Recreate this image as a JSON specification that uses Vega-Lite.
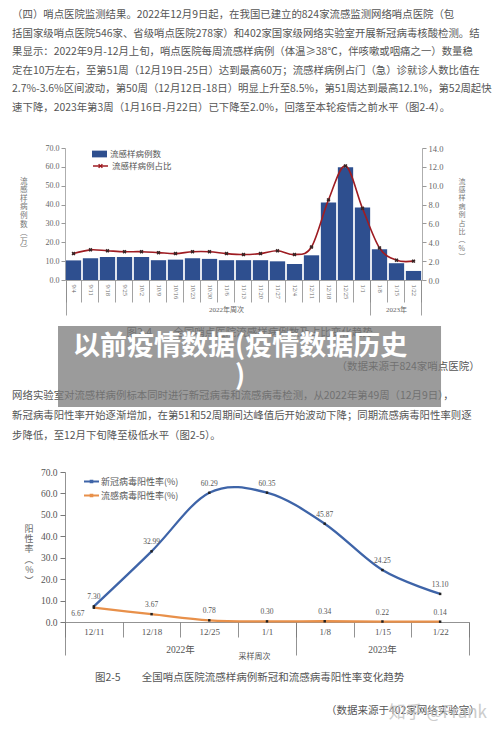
{
  "$schema": "https://vega.github.io/schema/vega-lite/v6.json",
  "background": "white",
  "padding": {"left": 12, "top": 0, "right": 0, "bottom": 0},
  "bounds": "flush",
  "spacing": 0,
  "config": {"view": {"stroke": null}, "concat": {"spacing": 0}, "font": "Noto Sans CJK SC"},
  "resolve": {
    "scale": {"fill": "independent", "stroke": "independent", "color": "independent"},
    "legend": {"fill": "independent", "stroke": "independent", "color": "independent"}
  },
  "datasets": {
    "para1": [
      {"line": 1, "text": "　　（四）哨点医院监测结果。2022年12月9日起，在我国已建立的824家流感监测网络哨点医院（包"},
      {"line": 2, "text": "括国家级哨点医院546家、省级哨点医院278家）和402家国家级网络实验室开展新冠病毒核酸检测。结"},
      {"line": 3, "text": "果显示：2022年9月-12月上旬，哨点医院每周流感样病例（体温≥38℃，伴咳嗽或咽痛之一）数量稳"},
      {"line": 4, "text": "定在10万左右，至第51周（12月19日-25日）达到最高60万；流感样病例占门（急）诊就诊人数比值在"},
      {"line": 5, "text": "2.7%-3.6%区间波动，第50周（12月12日-18日）明显上升至8.5%，第51周达到最高12.1%，第52周起快"},
      {"line": 6, "text": "速下降，2023年第3周（1月16日-月22日）已下降至2.0%，回落至本轮疫情之前水平（图2-4）。"}
    ],
    "para2": [
      {"line": 1, "text": "　　网络实验室对流感样病例标本同时进行新冠病毒和流感病毒检测，从2022年第49周（12月9日），"},
      {"line": 2, "text": "新冠病毒阳性率开始逐渐增加，在第51和52周期间达峰值后开始波动下降；同期流感病毒阳性率则逐"},
      {"line": 3, "text": "步降低，至12月下旬降至极低水平（图2-5）。"}
    ],
    "cap1": [{"text": "图2-4　　全国哨点医院流感样病例数及占比变化趋势"}],
    "src1": [{"text": "（数据来源于824家哨点医院）"}],
    "cap2": [{"text": "图2-5　　全国哨点医院流感样病例新冠和流感病毒阳性率变化趋势"}],
    "src2": [{"text": "（数据来源于402家网络实验室）"}],
    "wm": [{"text": "知乎 @Frank"}],
    "banner": [{"text": ["以前疫情数据(疫情数据历史", ")"]}],
    "ili": [
      {"week": "9/4", "cases": 10.4, "ratio": 2.8},
      {"week": "9/11", "cases": 11.5, "ratio": 3.2},
      {"week": "9/18", "cases": 12.2, "ratio": 3.1},
      {"week": "9/25", "cases": 12.2, "ratio": 3.0},
      {"week": "10/2", "cases": 12.2, "ratio": 3.0},
      {"week": "10/9", "cases": 10.5, "ratio": 2.9},
      {"week": "10/16", "cases": 10.8, "ratio": 2.8},
      {"week": "10/23", "cases": 11.5, "ratio": 3.0},
      {"week": "10/30", "cases": 11.2, "ratio": 3.0},
      {"week": "11/6", "cases": 10.5, "ratio": 2.8},
      {"week": "11/13", "cases": 10.5, "ratio": 2.7},
      {"week": "11/20", "cases": 10.5, "ratio": 2.8},
      {"week": "11/27", "cases": 9.9, "ratio": 3.1},
      {"week": "12/4", "cases": 8.5, "ratio": 2.7},
      {"week": "12/11", "cases": 13.1, "ratio": 3.5},
      {"week": "12/18", "cases": 41.1, "ratio": 8.5},
      {"week": "12/25", "cases": 59.8, "ratio": 12.1},
      {"week": "1/1", "cases": 38.5, "ratio": 7.6},
      {"week": "1/8", "cases": 16.3, "ratio": 3.4},
      {"week": "1/15", "cases": 8.9, "ratio": 2.1},
      {"week": "1/22", "cases": 4.8, "ratio": 2.0}
    ],
    "pos": [
      {"week": "12/11", "series": "新冠病毒阳性率(%)", "value": 7.30},
      {"week": "12/18", "series": "新冠病毒阳性率(%)", "value": 32.99},
      {"week": "12/25", "series": "新冠病毒阳性率(%)", "value": 60.29},
      {"week": "1/1", "series": "新冠病毒阳性率(%)", "value": 60.35},
      {"week": "1/8", "series": "新冠病毒阳性率(%)", "value": 45.87},
      {"week": "1/15", "series": "新冠病毒阳性率(%)", "value": 24.25},
      {"week": "1/22", "series": "新冠病毒阳性率(%)", "value": 13.10},
      {"week": "12/11", "series": "流感病毒阳性率(%)", "value": 6.67},
      {"week": "12/18", "series": "流感病毒阳性率(%)", "value": 3.67},
      {"week": "12/25", "series": "流感病毒阳性率(%)", "value": 0.78},
      {"week": "1/1", "series": "流感病毒阳性率(%)", "value": 0.30},
      {"week": "1/8", "series": "流感病毒阳性率(%)", "value": 0.34},
      {"week": "1/15", "series": "流感病毒阳性率(%)", "value": 0.22},
      {"week": "1/22", "series": "流感病毒阳性率(%)", "value": 0.14}
    ]
  },
  "vconcat": [
    {
      "width": 422, "height": 148,
      "data": {"name": "para1"},
      "mark": {"type": "text", "align": "left", "baseline": "middle", "fontSize": 10.4, "color": "#555", "font": "Noto Sans CJK SC"},
      "encoding": {
        "x": {"datum": 0, "type": "quantitative", "scale": {"domain": [0.1114, 1], "nice": false, "zero": false}, "axis": null},
        "y": {"field": "line", "type": "quantitative", "scale": {"domain": [0.1935, 8.1505], "nice": false, "zero": false, "reverse": true}, "axis": null},
        "text": {"field": "text"}
      }
    },
    {
      "width": 357, "height": 132,
      "data": {"name": "ili"},
      "layer": [
        {
          "mark": {"type": "bar"},
          "encoding": {
            "x": {"field": "week", "type": "ordinal", "sort": null,
                  "scale": {"type": "band", "paddingInner": 0.1, "paddingOuter": 0.05},
                  "axis": {"orient": "bottom", "title": null, "tickBand": "extent", "tickSize": 22, "tickColor": "#8a8a8a", "tickWidth": 0.8, "domainColor": "#8a8a8a", "domainWidth": 0.8, "labelAngle": 90, "labelAlign": "left", "labelBaseline": "middle", "labelPadding": -18, "labelFont": "Liberation Serif", "labelFontSize": 6.5, "labelColor": "#666"}},
            "y": {"field": "cases", "type": "quantitative", "scale": {"domain": [0, 70], "nice": false},
                  "axis": {"orient": "left", "values": [0, 10, 20, 30, 40, 50, 60, 70], "format": ".1f", "grid": false, "tickSize": 4, "tickColor": "#999", "domainColor": "#999", "domainWidth": 0.8, "labelPadding": 2, "labelFont": "Liberation Serif", "labelFontSize": 8, "labelColor": "#666",
                           "title": ["流", "感", "样", "病", "例", "数", "︵", "万", "︶"], "titleAngle": 0, "titleAlign": "right", "titleBaseline": "top", "titleX": -38, "titleY": 29, "titleFont": "Noto Sans CJK SC", "titleFontSize": 7.6, "titleLineHeight": 8.6, "titleFontWeight": "normal", "titleColor": "#777"}},
            "fill": {"datum": "流感样病例数", "type": "nominal", "scale": {"range": ["#2E4F8F"]},
                     "legend": {"orient": "none", "legendX": 27, "legendY": -1.5, "title": null, "padding": 0, "symbolType": "M-1,-0.45H1V0.45H-1Z", "symbolSize": 225, "symbolStrokeWidth": 0, "labelFont": "Noto Sans CJK SC", "labelFontSize": 8.5, "labelColor": "#555", "labelOffset": 3}}
          }
        },
        {
          "mark": {"type": "line", "interpolate": "cardinal", "strokeWidth": 1.6},
          "encoding": {
            "x": {"field": "week", "type": "ordinal", "sort": null,
                  "axis": {"orient": "bottom", "title": null, "tickBand": "extent", "tickSize": 35, "tickWidth": 0.8, "labels": false, "domain": false,
                           "tickColor": {"condition": {"test": "datum.value === '1/1' || datum.value === '1/22' || datum.extra", "value": "#8a8a8a"}, "value": "transparent"}}},
            "y": {"field": "ratio", "type": "quantitative", "scale": {"domain": [0, 14], "nice": false},
                  "axis": {"orient": "right", "values": [0, 2, 4, 6, 8, 10, 12, 14], "format": ".1f", "grid": false, "tickSize": 4, "tickColor": "#999", "domainColor": "#999", "domainWidth": 0.8, "labelPadding": 2, "labelFont": "Liberation Serif", "labelFontSize": 8.5, "labelColor": "#666",
                           "title": ["流", "感", "样", "病", "例", "占", "比", "︵", "%", "︶"], "titleAngle": 0, "titleAlign": "left", "titleBaseline": "top", "titleX": 36, "titleY": 29, "titleFont": "Noto Sans CJK SC", "titleFontSize": 7, "titleLineHeight": 8.4, "titleFontWeight": "normal", "titleColor": "#777"}},
            "stroke": {"datum": "流感样病例占比", "type": "nominal", "scale": {"range": ["#9E1C22"]},
                       "legend": {"orient": "none", "legendX": 27, "legendY": 9.5, "title": null, "padding": 0, "symbolType": "M-1,0H1M-0.25,-0.25L0.25,0.25M-0.25,0.25L0.25,-0.25", "symbolSize": 225, "symbolStrokeWidth": 1.4, "labelFont": "Noto Sans CJK SC", "labelFontSize": 8.5, "labelColor": "#555", "labelOffset": 3}}
          }
        },
        {
          "mark": {"type": "point", "shape": "cross", "angle": 45, "filled": true, "size": 16, "color": "#3a2424", "opacity": 1},
          "encoding": {
            "x": {"field": "week", "type": "ordinal", "sort": null,
                  "axis": {"orient": "bottom", "title": null, "values": ["11/6", "1/15"], "labelExpr": "datum.value === '11/6' ? '2022年周次' : '2023年'", "ticks": false, "domain": false, "labelPadding": 25, "labelAngle": 0, "labelAlign": "center", "labelBaseline": "top", "labelFont": "Liberation Serif, Noto Sans CJK SC", "labelFontSize": 7, "labelColor": "#666"}},
            "y": {"field": "ratio", "type": "quantitative", "scale": {"domain": [0, 14], "nice": false}, "axis": null}
          }
        }
      ],
      "resolve": {"scale": {"y": "independent"}, "axis": {"x": "independent"}}
    },
    {
      "width": 422, "height": 192,
      "layer": [
        {
          "data": {"name": "cap1"},
          "mark": {"type": "text", "align": "center", "baseline": "middle", "fontSize": 10.5, "color": "#555"},
          "encoding": {
            "x": {"datum": 0.5, "type": "quantitative", "scale": {"domain": [0.1114, 1], "nice": false, "zero": false}, "axis": null},
            "y": {"datum": -2.15, "type": "quantitative", "scale": {"domain": [-4.8, 4.8], "nice": false, "zero": false, "reverse": true}, "axis": null},
            "text": {"field": "text"}
          }
        },
        {
          "data": {"name": "src1"},
          "mark": {"type": "text", "align": "right", "baseline": "middle", "fontSize": 10.5, "color": "#555"},
          "encoding": {
            "x": {"datum": 0.985, "type": "quantitative", "scale": {"domain": [0.1114, 1], "nice": false, "zero": false}, "axis": null},
            "y": {"datum": -0.45, "type": "quantitative", "scale": {"domain": [-4.8, 4.8], "nice": false, "zero": false, "reverse": true}, "axis": null},
            "text": {"field": "text"}
          }
        },
        {
          "data": {"name": "para2"},
          "mark": {"type": "text", "align": "left", "baseline": "middle", "fontSize": 10.4, "color": "#555"},
          "encoding": {
            "x": {"datum": 0, "type": "quantitative", "scale": {"domain": [0.1114, 1], "nice": false, "zero": false}, "axis": null},
            "y": {"field": "line", "type": "quantitative", "scale": {"domain": [-4.8, 4.8], "nice": false, "zero": false, "reverse": true}, "axis": null},
            "text": {"field": "text"}
          }
        },
        {
          "data": {"name": "banner"},
          "mark": {"type": "rect", "fill": "#7a7a7a", "opacity": 0.75},
          "encoding": {
            "x": {"datum": 0.0967, "type": "quantitative", "scale": {"domain": [0.1114, 1], "nice": false, "zero": false}, "axis": null},
            "x2": {"datum": 0.9032},
            "y": {"datum": -2.5, "type": "quantitative", "scale": {"domain": [-4.8, 4.8], "nice": false, "zero": false, "reverse": true}, "axis": null},
            "y2": {"datum": 1.55}
          }
        },
        {
          "data": {"name": "banner"},
          "mark": {"type": "text", "align": "center", "baseline": "middle", "fontSize": 27, "fontWeight": "bold", "color": "white", "lineHeight": 30, "font": "Noto Sans CJK SC"},
          "encoding": {
            "x": {"datum": 0.48, "type": "quantitative", "scale": {"domain": [0.1114, 1], "nice": false, "zero": false}, "axis": null},
            "y": {"datum": -1.45, "type": "quantitative", "scale": {"domain": [-4.8, 4.8], "nice": false, "zero": false, "reverse": true}, "axis": null},
            "text": {"field": "text"}
          }
        }
      ]
    },
    {
      "width": 404, "height": 150,
      "data": {"name": "pos"},
      "encoding": {
        "y": {"field": "value", "type": "quantitative", "scale": {"domain": [0, 70], "nice": false}, "axis": null}
      },
      "layer": [
        {
          "mark": {"type": "line", "interpolate": "cardinal", "strokeWidth": 2.3},
          "encoding": {
            "x": {"field": "week", "type": "ordinal", "sort": null, "scale": {"type": "band", "paddingInner": 0, "paddingOuter": 0},
                  "axis": {"orient": "bottom", "title": null, "tickBand": "extent", "tickSize": 15, "tickColor": "#777", "tickWidth": 0.8, "domainColor": "#777", "domainWidth": 0.8, "labelAngle": 0, "labelBaseline": "top", "labelPadding": -10, "labelFont": "Liberation Serif", "labelFontSize": 9, "labelColor": "#555"}},
            "y": {"field": "value", "type": "quantitative", "scale": {"domain": [0, 70], "nice": false},
                  "axis": {"orient": "left", "values": [0, 10, 20, 30, 40, 50, 60, 70], "format": ".1f", "grid": false, "tickSize": 5, "tickColor": "#777", "domainColor": "#777", "domainWidth": 0.8, "labelPadding": 3, "labelFont": "Liberation Serif", "labelFontSize": 9.5, "labelColor": "#555",
                           "title": ["阳", "性", "率", "︵", "%", "︶"], "titleAngle": 0, "titleAlign": "right", "titleBaseline": "top", "titleX": -32, "titleY": 52, "titleFont": "Noto Sans CJK SC", "titleFontSize": 9, "titleLineHeight": 10.4, "titleFontWeight": "normal", "titleColor": "#666"}},
            "color": {"field": "series", "type": "nominal", "scale": {"domain": ["新冠病毒阳性率(%)", "流感病毒阳性率(%)"], "range": ["#3E64A8", "#E8904A"]},
                      "legend": {"orient": "none", "legendX": 19, "legendY": 2, "title": null, "padding": 0, "symbolType": "M-1.25,0H1.25M-0.12,-0.12H0.12V0.12H-0.12Z", "symbolSize": 144, "symbolStrokeWidth": 2.2, "rowPadding": 1, "labelFont": "Noto Sans CJK SC", "labelFontSize": 9, "labelColor": "#555", "labelOffset": 2}}
          }
        },
        {
          "mark": {"type": "point", "shape": "square", "filled": true, "size": 6, "color": "#222", "opacity": 1},
          "encoding": {
            "x": {"field": "week", "type": "ordinal", "sort": null,
                  "axis": {"orient": "bottom", "tickBand": "extent", "tickSize": 33, "tickWidth": 0.8, "labels": false, "domain": false,
                           "tickColor": {"condition": {"test": "datum.value === '1/1' || datum.value === '1/22' || datum.extra", "value": "#777"}, "value": "transparent"},
                           "title": "采样周次", "titleFont": "Noto Sans CJK SC", "titleFontSize": 8, "titleFontWeight": "normal", "titleColor": "#555", "titlePadding": -3, "titleX": 189}}
          }
        },
        {
          "transform": [{"filter": "datum.series === '新冠病毒阳性率(%)'"}],
          "mark": {"type": "text", "dy": -9, "fontSize": 7.5, "font": "Liberation Serif", "color": "#555"},
          "encoding": {
            "x": {"field": "week", "type": "ordinal", "sort": null,
                  "axis": {"orient": "bottom", "title": null, "values": ["12/18"], "labelExpr": "'2022年'", "labelOffset": 29, "ticks": false, "domain": false, "labelPadding": 22, "labelAngle": 0, "labelBaseline": "top", "labelFont": "Liberation Serif, Noto Sans CJK SC", "labelFontSize": 9.5, "labelColor": "#555"}},
            "text": {"field": "value", "type": "quantitative", "format": ".2f"}
          }
        },
        {
          "transform": [{"filter": "datum.series === '流感病毒阳性率(%)' && datum.week !== '12/11'"}],
          "mark": {"type": "text", "dy": -9, "fontSize": 7.5, "font": "Liberation Serif", "color": "#555"},
          "encoding": {
            "x": {"field": "week", "type": "ordinal", "sort": null,
                  "axis": {"orient": "bottom", "title": null, "values": ["1/15"], "labelExpr": "'2023年'", "ticks": false, "domain": false, "labelPadding": 22, "labelAngle": 0, "labelBaseline": "top", "labelFont": "Liberation Serif, Noto Sans CJK SC", "labelFontSize": 9.5, "labelColor": "#555"}},
            "text": {"field": "value", "type": "quantitative", "format": ".2f"}
          }
        },
        {
          "transform": [{"filter": "datum.series === '流感病毒阳性率(%)' && datum.week === '12/11'"}],
          "mark": {"type": "text", "dx": -16, "dy": 6, "fontSize": 7.5, "font": "Liberation Serif", "color": "#555"},
          "encoding": {
            "x": {"field": "week", "type": "ordinal", "sort": null, "axis": null},
            "text": {"field": "value", "type": "quantitative", "format": ".2f"}
          }
        }
      ],
      "resolve": {"scale": {"y": "independent"}, "axis": {"x": "independent"}}
    },
    {
      "width": 422, "height": 111,
      "layer": [
        {
          "data": {"name": "cap2"},
          "mark": {"type": "text", "align": "center", "baseline": "middle", "fontSize": 10.5, "color": "#555"},
          "encoding": {
            "x": {"datum": 0.5, "type": "quantitative", "scale": {"domain": [0.1114, 1], "nice": false, "zero": false}, "axis": null},
            "y": {"datum": 2.8, "type": "quantitative", "scale": {"domain": [0, 5.55], "nice": false, "zero": false, "reverse": true}, "axis": null},
            "text": {"field": "text"}
          }
        },
        {
          "data": {"name": "src2"},
          "mark": {"type": "text", "align": "right", "baseline": "middle", "fontSize": 10.5, "color": "#555"},
          "encoding": {
            "x": {"datum": 0.985, "type": "quantitative", "scale": {"domain": [0.1114, 1], "nice": false, "zero": false}, "axis": null},
            "y": {"datum": 4.45, "type": "quantitative", "scale": {"domain": [0, 5.55], "nice": false, "zero": false, "reverse": true}, "axis": null},
            "text": {"field": "text"}
          }
        },
        {
          "data": {"name": "wm"},
          "mark": {"type": "text", "align": "right", "baseline": "middle", "fontSize": 17, "color": "#c4c4c4", "opacity": 0.85},
          "encoding": {
            "x": {"datum": 1, "type": "quantitative", "scale": {"domain": [0.1114, 1], "nice": false, "zero": false}, "axis": null},
            "y": {"datum": 4.55, "type": "quantitative", "scale": {"domain": [0, 5.55], "nice": false, "zero": false, "reverse": true}, "axis": null},
            "text": {"field": "text"}
          }
        }
      ]
    }
  ]
}
